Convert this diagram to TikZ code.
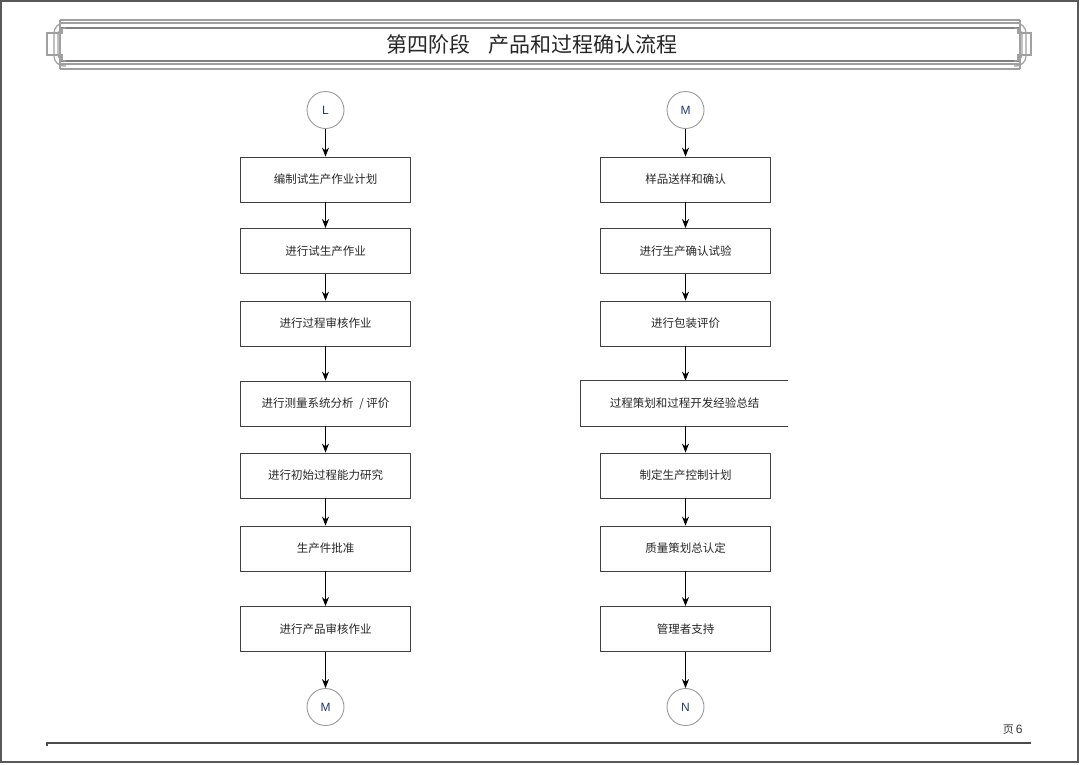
\documentclass[tikz,border=0pt]{standalone}
\usepackage{fontspec}
\setmainfont{Liberation Sans}
\newfontfamily\cjk{Noto Sans CJK SC}
\usetikzlibrary{arrows.meta}
\definecolor{boxline}{HTML}{404040}
\definecolor{bandline}{HTML}{A0A0A0}
\definecolor{circline}{HTML}{9A9A9A}
\definecolor{lettercol}{HTML}{1F3A7A}
\tikzset{
  stepbox/.style={draw=boxline, line width=0.9pt, minimum width=170pt, minimum height=45pt, inner sep=0pt,
    font=\cjk\fontsize{11.5}{13}\selectfont, text=black!85},
  conn/.style={draw=circline, circle, line width=0.9pt, minimum size=37pt, inner sep=0pt,
    font=\fontsize{12}{13}\selectfont, text=lettercol},
  flow/.style={-{Stealth[length=9pt,width=7pt]}, line width=0.8pt, black},
  band/.style={draw=bandline, line width=1.2pt}
}
\begin{document}
\begin{tikzpicture}[x=1pt,y=-1pt]
\useasboundingbox (0,0) rectangle (1080,764);
% page frame
\draw[draw=black!65, line width=1.5pt] (1,1) rectangle (1078,762);
% title band
\draw[band] (60,20) -- (1020,20);
\draw[band] (60,23) -- (1020,23);
\draw[band, draw=black!50] (60,28) -- (1020,28);
\draw[band, draw=black!50] (60,61) -- (1020,61);
\draw[band] (60,64) -- (1020,64);
\draw[band] (60,69) -- (1020,69);
\draw[band] (60,20) -- (60,69);
\draw[band] (1020,20) -- (1020,69);
% left cap
\draw[band] (62,28) -- (62,33) -- (47,33) -- (47,55) -- (62,55) -- (62,61);
\draw[band, rounded corners=7pt] (66,28) -- (58,28) -- (58,61) -- (66,61);
\draw[band, rounded corners=10pt] (66,23) -- (54,23) -- (54,66) -- (66,66);
% right cap
\draw[band] (1018,28) -- (1018,33) -- (1031,33) -- (1031,55) -- (1018,55) -- (1018,61);
\draw[band, rounded corners=7pt] (1014,28) -- (1022,28) -- (1022,61) -- (1014,61);
\draw[band, rounded corners=10pt] (1014,23) -- (1026,23) -- (1026,66) -- (1014,66);
\node[font=\cjk\fontsize{21}{24}\selectfont, text=black!85] (title) at (532,45) {第四阶段\hspace{0.9em}产品和过程确认流程};
% footer
\draw[draw=black!70, line width=1.2pt] (47,746) -- (47,743) -- (1031,743);
\node[anchor=east, font=\fontsize{12}{14}\selectfont, text=black!80] (page) at (1026,730) {{\cjk\fontsize{11}{14}\selectfont 页}\,6};
% left column
\node[conn] (L) at (325.5,110) {L};
\node[stepbox] (a1) at (325.5,179.5) {编制试生产作业计划};
\node[stepbox] (a2) at (325.5,251) {进行试生产作业};
\node[stepbox] (a3) at (325.5,323.5) {进行过程审核作业};
\node[stepbox] (a4) at (325.5,403.5) {进行测量系统分析\hspace{0.5em}/ 评价};
\node[stepbox] (a5) at (325.5,475.5) {进行初始过程能力研究};
\node[stepbox] (a6) at (325.5,548.5) {生产件批准};
\node[stepbox] (a7) at (325.5,629) {进行产品审核作业};
\node[conn] (M1) at (325.5,707) {M};
\foreach \u/\v in {L/a1,a1/a2,a2/a3,a3/a4,a4/a5,a5/a6,a6/a7,a7/M1}
  \draw[flow] (\u) -- (\v);
% right column
\node[conn] (M2) at (685.5,110) {M};
\node[stepbox] (b1) at (685.5,179.5) {样品送样和确认};
\node[stepbox] (b2) at (685.5,251) {进行生产确认试验};
\node[stepbox] (b3) at (685.5,323.5) {进行包装评价};
\node[stepbox, draw=none, minimum width=207pt] (b4) at (684.5,403.5) {过程策划和过程开发经验总结};
\draw[draw=boxline, line width=0.9pt] (b4.north east) -- (b4.north west) -- (b4.south west) -- (b4.south east);
\node[stepbox] (b5) at (685.5,475.5) {制定生产控制计划};
\node[stepbox] (b6) at (685.5,548.5) {质量策划总认定};
\node[stepbox] (b7) at (685.5,629) {管理者支持};
\node[conn] (N) at (685.5,707) {N};
\draw[flow] (M2) -- (b1);
\draw[flow] (b1) -- (b2);
\draw[flow] (b2) -- (b3);
\draw[flow] (b3) -- (b3|-b4.north);
\draw[flow] (b4.south-|b3) -- (b5);
\draw[flow] (b5) -- (b6);
\draw[flow] (b6) -- (b7);
\draw[flow] (b7) -- (N);
\end{tikzpicture}
\end{document}
